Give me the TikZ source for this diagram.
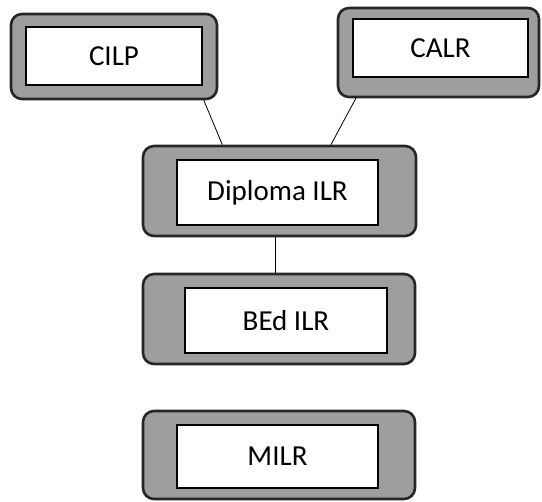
\documentclass[tikz,border=0pt]{standalone}
\usepackage{fontspec}
\setmainfont{Carlito}

\begin{document}
\begin{tikzpicture}[x=1pt, y=-1pt, every node/.append style={font=\fontsize{29}{34}\selectfont},
  frame/.style={draw=black!85, line width=2.6pt, rounded corners=11pt, fill=black!38, inner sep=0pt},
  namebox/.style={draw=black, line width=1.3pt, fill=white, inner sep=0pt}]
\useasboundingbox (0,0) rectangle (542,502);

% grey frames
\node[frame, minimum width=206pt, minimum height=85pt] (cilpFrame) at (114,56.5)  {};
\node[frame, minimum width=201pt, minimum height=89pt] (calrFrame) at (438.5,52.5) {};
\node[frame, minimum width=273pt, minimum height=90pt] (dipFrame)  at (279.5,191) {};
\node[frame, minimum width=272pt, minimum height=90pt] (bedFrame)  at (279,319)   {};
\node[frame, minimum width=272pt, minimum height=88pt] (milrFrame) at (279,455)   {};

% programme names
\node[namebox, minimum width=176pt, minimum height=58pt] (cilp) at (114,56)      {CILP};
\node[namebox, minimum width=175pt, minimum height=58pt] (calr) at (440.5,48)    {CALR};
\node[namebox, minimum width=201pt, minimum height=65pt] (dip)  at (277.5,192.5) {Diploma ILR};
\node[namebox, minimum width=202pt, minimum height=65pt] (bed)  at (286,320.5)   {BEd ILR};
\node[namebox, minimum width=201pt, minimum height=63pt] (milr) at (277.5,456.5) {MILR};

% links
\draw[line width=0.8pt] (cilpFrame.-26) -- (dipFrame.141);
\draw[line width=0.8pt] (calrFrame.-151) -- (dipFrame.42);
\draw[line width=0.8pt] (dipFrame.south -| 275,0) -- (bedFrame.north -| 275,0);

\end{tikzpicture}
\end{document}
